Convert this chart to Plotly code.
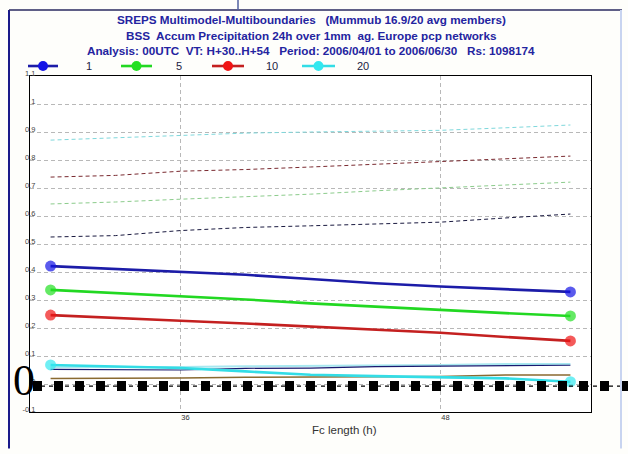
import plotly.graph_objects as go

# Forecast length (h)
fc_hours = [30, 33, 36, 39, 42, 45, 48, 51, 54]

# BSS per threshold (solid, with end markers)
bss_1 = [0.421, 0.410, 0.400, 0.390, 0.375, 0.360, 0.348, 0.338, 0.329]
bss_5 = [0.336, 0.325, 0.313, 0.302, 0.288, 0.276, 0.265, 0.253, 0.243]
bss_10 = [0.246, 0.237, 0.226, 0.216, 0.205, 0.194, 0.183, 0.168, 0.154]
bss_20 = [0.068, 0.063, 0.057, 0.045, 0.033, 0.028, 0.025, 0.020, 0.008]

# Companion curves (dashed, upper part)
ref_20 = [0.871, 0.880, 0.888, 0.896, 0.900, 0.903, 0.906, 0.915, 0.925]
ref_10 = [0.739, 0.745, 0.760, 0.766, 0.775, 0.785, 0.793, 0.803, 0.814]
ref_5 = [0.643, 0.650, 0.660, 0.669, 0.678, 0.690, 0.700, 0.712, 0.721]
ref_1 = [0.525, 0.530, 0.548, 0.559, 0.565, 0.572, 0.578, 0.593, 0.607]

# Thin curves near zero
low_navy = [0.052, 0.052, 0.050, 0.056, 0.057, 0.062, 0.064, 0.067, 0.067]
low_cyan = [0.060, 0.060, 0.061, 0.063, 0.064, 0.066, 0.068, 0.071, 0.071]
low_brown = [0.020, 0.020, 0.021, 0.024, 0.025, 0.028, 0.027, 0.032, 0.032]

y_ticks = [-0.1, 0, 0.1, 0.2, 0.3, 0.4, 0.5, 0.6, 0.7, 0.8, 0.9, 1, 1.1]
y_tick_text = ["-0.1", "0", "0.1", "0.2", "0.3", "0.4", "0.5", "0.6", "0.7", "0.8", "0.9", "1", "1.1"]
x_ticks = [36, 48]

legend_names = ["1", "5", "10", "20"]
legend_line_colors = ["#1c1ca8", "#22d822", "#c42020", "#33dde6"]
legend_marker_colors = ["#1414e6", "#22e022", "#f01414", "#33e8f0"]

W, H = 628, 454
L, R, T, B = 30, 591, 76, 412.5


def px(x):
    return (x - L) / (R - L)


def py(y):
    return (B - y) / (B - T)


fig = go.Figure()

n = len(fc_hours)
end_sizes = [11] + [0] * (n - 2) + [11]

# dashed companion curves
for ys, col in [(ref_20, "#7fd8dc"), (ref_10, "#7a2a30"), (ref_5, "#8ccc8c"), (ref_1, "#1a1a40")]:
    fig.add_trace(go.Scatter(x=fc_hours, y=ys, mode="lines",
                             line=dict(color=col, width=1, dash="4px,3px"),
                             showlegend=False, hoverinfo="skip"))

# near-zero thin curves
for ys, col, w in [(low_cyan, "#a8e8f0", 2), (low_brown, "#8a6a30", 1.5), (low_navy, "#1a1a70", 1.2)]:
    fig.add_trace(go.Scatter(x=fc_hours, y=ys, mode="lines",
                             line=dict(color=col, width=w),
                             showlegend=False, hoverinfo="skip"))

# solid BSS curves with end markers
for ys, lc, mc in zip([bss_1, bss_5, bss_10, bss_20], legend_line_colors, legend_marker_colors):
    fig.add_trace(go.Scatter(x=fc_hours, y=ys, mode="lines+markers",
                             line=dict(color=lc, width=2.6),
                             marker=dict(color=mc, size=end_sizes, line=dict(width=0)),
                             showlegend=False, hoverinfo="skip"))

shapes = []
annotations = []

# legend row
leg_y = py(66)
leg_sym = [(28, 58), (121, 152), (212, 244), (302, 335)]
leg_txt_x = [89, 179, 272, 363]
for (x0, x1), tx, name, lc, mc in zip(leg_sym, leg_txt_x, legend_names,
                                      legend_line_colors, legend_marker_colors):
    shapes.append(dict(type="line", xref="paper", yref="paper",
                       x0=px(x0), x1=px(x1), y0=leg_y, y1=leg_y,
                       line=dict(color=lc, width=2.6)))
    cx = (x0 + x1) / 2
    shapes.append(dict(type="circle", xref="paper", yref="paper",
                       x0=px(cx - 5), x1=px(cx + 5), y0=py(66 + 5), y1=py(66 - 5),
                       fillcolor=mc, line=dict(width=0)))
    annotations.append(dict(text=name, x=px(tx), y=leg_y, xref="paper", yref="paper",
                            showarrow=False, xanchor="center", yanchor="middle",
                            font=dict(size=11, color="#222244", family="Liberation Sans")))

# title lines
title_lines = [
    ("SREPS Multimodel-Multiboundaries   (Mummub 16.9/20 avg members)", 19),
    ("BSS  Accum Precipitation 24h over 1mm  ag. Europe pcp networks", 35),
    ("Analysis: 00UTC  VT: H+30..H+54   Period: 2006/04/01 to 2006/06/30   Rs: 1098174", 50),
]
for txt, yy in title_lines:
    annotations.append(dict(text="<b>" + txt + "</b>", x=px(311), y=py(yy), xref="paper", yref="paper",
                            showarrow=False, xanchor="center", yanchor="middle",
                            font=dict(size=11.7, color="#2424a0", family="Liberation Sans")))

# x axis title
annotations.append(dict(text="Fc length (h)", x=px(344), y=py(431), xref="paper", yref="paper",
                        showarrow=False, xanchor="center", yanchor="middle",
                        font=dict(size=11.5, color="#333333", family="Liberation Sans")))

# zero marker: thin dashed line, heavy dotted overlay and large serif label
shapes.append(dict(type="line", xref="paper", yref="paper",
                   x0=px(33), x1=px(628), y0=py(386.5), y1=py(386.5),
                   line=dict(color="#000000", width=1.2, dash="4px,4px")))
shapes.append(dict(type="line", xref="paper", yref="paper",
                   x0=px(33), x1=px(628), y0=py(386.5), y1=py(386.5),
                   line=dict(color="#000000", width=10, dash="9px,12px")))
annotations.append(dict(text="0", x=px(24), y=py(381), xref="paper", yref="paper",
                        showarrow=False, xanchor="center", yanchor="middle",
                        font=dict(size=44, color="#000000", family="Liberation Serif")))

# outer page frame
shapes.append(dict(type="line", xref="paper", yref="paper",
                   x0=px(9), x1=px(9), y0=py(10), y1=py(449),
                   line=dict(color="#1a1a8a", width=2)))
shapes.append(dict(type="line", xref="paper", yref="paper",
                   x0=px(9), x1=px(622), y0=py(10), y1=py(10),
                   line=dict(color="#2a2a60", width=1.5)))
shapes.append(dict(type="line", xref="paper", yref="paper",
                   x0=px(238), x1=px(238), y0=py(0), y1=py(10),
                   line=dict(color="#5060a0", width=1.5)))
shapes.append(dict(type="line", xref="paper", yref="paper",
                   x0=px(621), x1=px(621), y0=py(10), y1=py(449),
                   line=dict(color="#c8d4f0", width=2)))

fig.update_layout(
    width=W, height=H,
    margin=dict(l=L, r=W - R, t=T, b=H - B),
    paper_bgcolor="#fefefb",
    plot_bgcolor="#ffffff",
    shapes=shapes,
    annotations=annotations,
    showlegend=False,
    font=dict(family="Liberation Sans"),
)

fig.update_xaxes(range=[29.05, 54.95], tickvals=x_ticks, ticktext=[str(v) for v in x_ticks],
                 showgrid=True, gridcolor="#b8b8b8", griddash="4px,3px", gridwidth=1,
                 showline=True, linecolor="#000000", linewidth=1.2, mirror=True,
                 ticks="", zeroline=False, ticklabelshift=5, ticklabelstandoff=-2,
                 tickfont=dict(size=7.5, color="#333333", family="Liberation Sans"))
fig.update_yaxes(range=[-0.1, 1.1], tickvals=y_ticks, ticktext=y_tick_text,
                 showgrid=True, gridcolor="#b8b8b8", griddash="4px,3px", gridwidth=1,
                 showline=True, linecolor="#000000", linewidth=1.2, mirror=True,
                 ticks="", zeroline=False, ticklabelstandoff=-8, ticklabelshift=-3,
                 tickfont=dict(size=7.5, color="#444444", family="Liberation Sans"))

fig.write_html("out.html")
